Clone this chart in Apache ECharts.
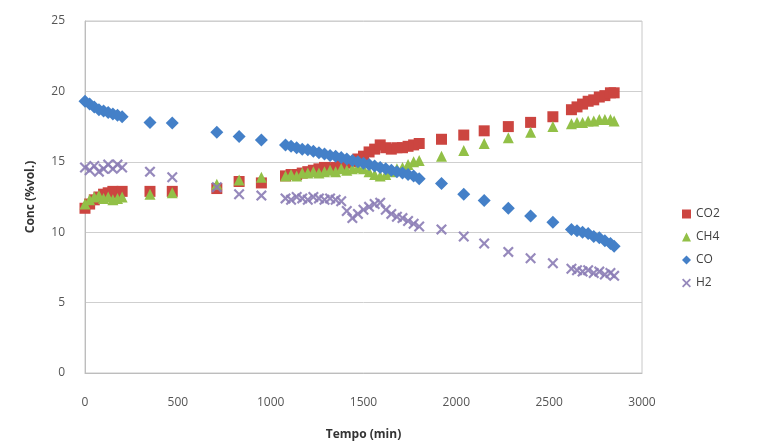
<!DOCTYPE html>
<html>
<head>
<meta charset="utf-8">
<script src="https://cdn.jsdelivr.net/npm/echarts@6/dist/echarts.min.js"></script>
<style>
html,body{margin:0;padding:0;background:#fff;}
#chart{width:759px;height:447px;}
</style>
</head>
<body>
<div id="chart"></div>
<script>
// Shared measurement times (min)
const tempo = [0, 25, 50, 75, 100, 125, 150, 175, 200, 350, 470, 710, 830, 950, 1080, 1110, 1140, 1170, 1200, 1230, 1260, 1290, 1320, 1350, 1380, 1410, 1440, 1470, 1500, 1530, 1560, 1590, 1620, 1650, 1680, 1710, 1740, 1770, 1800, 1920, 2040, 2150, 2280, 2400, 2520, 2620, 2650, 2680, 2710, 2740, 2770, 2800, 2830, 2850];

const co2 = [11.7, 12.0, 12.3, 12.5, 12.7, 12.8, 12.9, 12.8, 12.9, 12.9, 12.9, 13.1, 13.6, 13.5, 14.0, 14.1, 14.1, 14.2, 14.3, 14.4, 14.5, 14.6, 14.5, 14.6, 14.8, 14.9, 15.0, 15.2, 15.4, 15.7, 15.9, 16.2, 16.0, 15.9, 16.0, 16.0, 16.1, 16.2, 16.3, 16.6, 16.9, 17.2, 17.5, 17.8, 18.2, 18.7, 18.9, 19.1, 19.3, 19.4, 19.6, 19.7, 19.9, 19.9];

const ch4 = [12.0, 12.3, 12.5, 12.6, 12.4, 12.5, 12.3, 12.4, 12.5, 12.7, 12.8, 13.4, 13.7, 13.9, 14.0, 14.1, 14.0, 14.2, 14.2, 14.3, 14.2, 14.3, 14.4, 14.3, 14.5, 14.4, 14.5, 14.6, 14.5, 14.3, 14.1, 14.0, 14.1, 14.3, 14.5, 14.6, 14.8, 15.0, 15.1, 15.4, 15.8, 16.3, 16.7, 17.1, 17.5, 17.7, 17.8, 17.8, 17.9, 17.9, 18.0, 18.0, 18.0, 17.9];

const co = [19.3, 19.1, 18.9, 18.7, 18.6, 18.5, 18.4, 18.3, 18.2, 17.8, 17.75, 17.1, 16.8, 16.55, 16.2, 16.1, 16.0, 15.9, 15.85, 15.75, 15.65, 15.55, 15.45, 15.4, 15.3, 15.2, 15.1, 15.0, 14.9, 14.8, 14.7, 14.6, 14.5, 14.4, 14.3, 14.2, 14.1, 14.0, 13.8, 13.45, 12.7, 12.25, 11.7, 11.15, 10.7, 10.2, 10.1, 10.0, 9.9, 9.7, 9.6, 9.4, 9.2, 9.0];

const h2 = [14.6, 14.4, 14.7, 14.3, 14.5, 14.8, 14.5, 14.8, 14.6, 14.3, 13.9, 13.2, 12.7, 12.6, 12.4, 12.3, 12.5, 12.4, 12.3, 12.5, 12.4, 12.3, 12.4, 12.3, 12.2, 11.5, 11.0, 11.3, 11.6, 11.8, 12.0, 12.1, 11.6, 11.3, 11.1, 11.0, 10.8, 10.6, 10.4, 10.2, 9.7, 9.2, 8.6, 8.15, 7.8, 7.4, 7.3, 7.2, 7.3, 7.1, 7.2, 7.0, 7.1, 6.9];

const seriesNames = ['CO2', 'CH4', 'CO', 'H2'];
const xTicks = {min: 0, max: 3000, interval: 500};
const yTicks = {min: 0, max: 25, interval: 5};

function pairs(ys){ return tempo.map((t,i)=>[t, ys[i]]); }

const xShape = 'path://M0,1.4 L1.4,0 L5,3.6 L8.6,0 L10,1.4 L6.4,5 L10,8.6 L8.6,10 L5,6.4 L1.4,10 L0,8.6 L3.6,5 Z';

const chart = echarts.init(document.getElementById('chart'), null, {renderer:'canvas'});
chart.setOption({
  animation: false,
  backgroundColor: '#ffffff',
  textStyle: {fontFamily: 'Open Sans, Liberation Sans, sans-serif'},
  grid: {left: 85, right: 117, top: 21, bottom: 74, show: true, borderColor: '#c8c8c8', borderWidth: 1},
  legend: {
    orient: 'vertical', left: 677, top: 203, itemGap: 11, itemWidth: 9, itemHeight: 9,
    textStyle: {fontSize: 12, color: '#404040', fontFamily: 'Open Sans, sans-serif'},
    data: seriesNames
  },
  xAxis: {
    type: 'value', min: xTicks.min, max: xTicks.max, interval: xTicks.interval,
    name: 'Tempo (min)', nameLocation: 'middle', nameGap: 56,
    nameTextStyle: {fontSize: 12, fontWeight: 'bold', color: '#333'},
    axisLine: {show: true, lineStyle: {color: '#bdbdbd'}},
    axisTick: {show: false},
    axisLabel: {fontSize: 12, color: '#555', margin: 24, formatter: v => String(v)},
    splitLine: {show: false}
  },
  yAxis: {
    type: 'value', min: yTicks.min, max: yTicks.max, interval: yTicks.interval,
    name: 'Conc (%vol.)', nameLocation: 'middle', nameGap: 48,
    nameTextStyle: {fontSize: 12, fontWeight: 'bold', color: '#333'},
    axisLine: {show: true, lineStyle: {color: '#bdbdbd'}},
    axisTick: {show: false},
    axisLabel: {fontSize: 12, color: '#555', margin: 20, formatter: v => String(v)},
    splitLine: {show: true, lineStyle: {color: '#cfcfcf'}}
  },
  series: [
    {name: 'CO2', type: 'scatter', symbol: 'rect', symbolSize: 11, data: pairs(co2),
     itemStyle: {color: '#cc4540', opacity: 1}},
    {name: 'CH4', type: 'scatter', symbol: 'triangle', symbolSize: 11, data: pairs(ch4),
     itemStyle: {color: '#92c047', opacity: 1}},
    {name: 'CO', type: 'scatter', symbol: 'diamond', symbolSize: 13, data: pairs(co),
     itemStyle: {color: '#4480c8', opacity: 1}},
    {name: 'H2', type: 'scatter', symbol: xShape, symbolSize: 11, data: pairs(h2),
     itemStyle: {color: '#8b7cb5', opacity: 0.9}}
  ]
});
</script>
</body>
</html>
